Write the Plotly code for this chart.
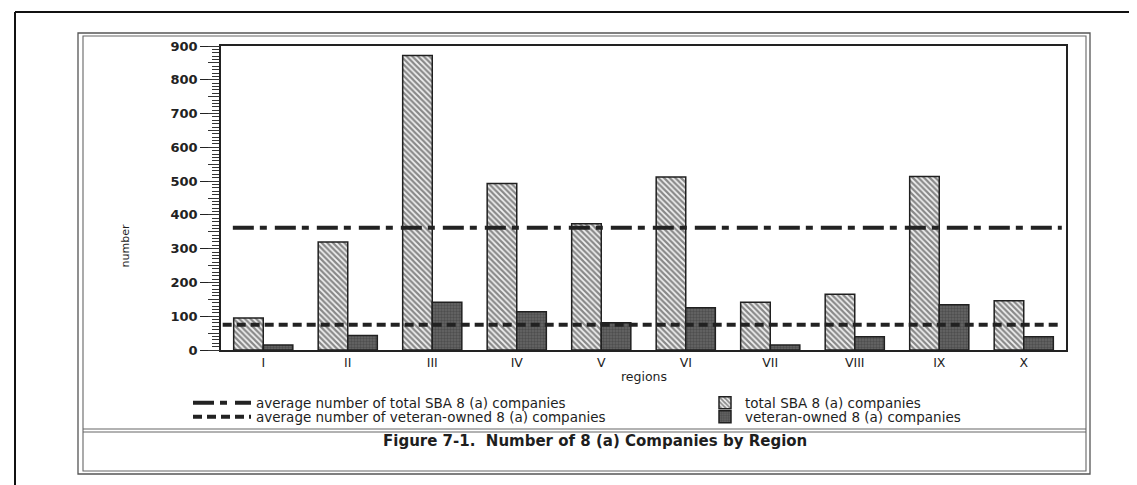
import plotly.graph_objects as go

# ---------------- data ----------------
regions = ["I", "II", "III", "IV", "V", "VI", "VII", "VIII", "IX", "X"]
total_sba = [95, 320, 872, 493, 374, 512, 141, 165, 514, 146]
veteran_owned = [15, 43, 141, 113, 81, 125, 15, 39, 134, 39]
avg_total = 362
avg_veteran = 75
y_ticks = [0, 100, 200, 300, 400, 500, 600, 700, 800, 900]

W, H = 1137, 485


def px(x):
    return x / W


def py(y):
    return 1 - y / H


FONT = "DejaVu Sans, Liberation Sans, sans-serif"
INK = "#1e1e1e"

fig = go.Figure()

fig.add_trace(go.Bar(
    x=regions, y=total_sba, name="total SBA 8 (a) companies",
    marker=dict(color="white",
                line=dict(color="#202020", width=1.5),
                pattern=dict(shape="\\", fgcolor="#1e1e1e", bgcolor="#f2f2f2",
                             size=4, solidity=0.55)),
    legend="legend3",
))
fig.add_trace(go.Bar(
    x=regions, y=veteran_owned, name="veteran-owned 8 (a) companies",
    marker=dict(color="#555555",
                line=dict(color="#202020", width=1.5),
                pattern=dict(shape=".", fgcolor="#363636", bgcolor="#676767",
                             size=3, solidity=0.5)),
    legend="legend4",
))

# average lines on an overlay numeric axis spanning the plot width
fig.add_trace(go.Scatter(
    x=[0.014, 0.995], y=[avg_total, avg_total], mode="lines",
    name="average number of total SBA 8 (a) companies",
    line=dict(color="#222222", width=4, dash="21px,6px,7px,8px"),
    xaxis="x2", yaxis="y", legend="legend",
))
fig.add_trace(go.Scatter(
    x=[0.002, 0.995], y=[avg_veteran, avg_veteran], mode="lines",
    name="average number of veteran-owned 8 (a) companies",
    line=dict(color="#222222", width=4, dash="9px,5px"),
    xaxis="x2", yaxis="y", legend="legend2",
))
# invisible trace to carry the mid (50) ticks on an overlay y axis
fig.add_trace(go.Scatter(x=[None], y=[None], xaxis="x2", yaxis="y2",
                         showlegend=False, hoverinfo="skip"))

xdom = [px(213), px(1058)]
ydom = [py(342), py(38)]

LEG_FONT = dict(family=FONT, size=13.5, color=INK)

fig.update_layout(
    width=W, height=H,
    margin=dict(l=0, r=0, t=0, b=0),
    paper_bgcolor="white", plot_bgcolor="white",
    barmode="group", bargap=0.30, bargroupgap=0.0,
    font=dict(family=FONT, color=INK, size=12),
    xaxis=dict(domain=xdom, type="category", categoryorder="array",
               categoryarray=regions, showline=True, linecolor="#222",
               linewidth=1.5, mirror=True, ticks="", showgrid=False,
               tickfont=dict(family=FONT, size=12.5, color="#222"),
               automargin=False, fixedrange=True),
    xaxis2=dict(domain=xdom, overlaying="x", range=[0, 1], visible=False,
                fixedrange=True),
    yaxis=dict(domain=ydom, range=[0, 900], tickvals=y_ticks,
               showline=True, linecolor="#222", linewidth=1.5, mirror=True,
               ticks="outside", ticklen=19, tickwidth=1.3, tickcolor="#222",
               showgrid=False, zeroline=False,
               tickfont=dict(family=FONT, size=13, color="#222", weight="bold"),
               minor=dict(dtick=10, tick0=0, ticks="outside", ticklen=7,
                          tickwidth=1, tickcolor="#333", showgrid=False),
               automargin=False, fixedrange=True),
    yaxis2=dict(domain=ydom, range=[0, 900], overlaying="y", anchor="x",
                side="left", dtick=50, tick0=0, ticks="outside", ticklen=12,
                tickwidth=1, tickcolor="#333", showticklabels=False,
                showline=False, showgrid=False, zeroline=False,
                automargin=False, fixedrange=True),
    legend=dict(x=px(180), y=py(395), xanchor="left", yanchor="middle",
                bgcolor="rgba(0,0,0,0)", itemwidth=58, font=LEG_FONT),
    legend2=dict(x=px(180), y=py(409), xanchor="left", yanchor="middle",
                 bgcolor="rgba(0,0,0,0)", itemwidth=58, font=LEG_FONT),
    legend3=dict(x=px(697), y=py(395), xanchor="left", yanchor="middle",
                 bgcolor="rgba(0,0,0,0)", itemwidth=30, font=LEG_FONT),
    legend4=dict(x=px(697), y=py(409), xanchor="left", yanchor="middle",
                 bgcolor="rgba(0,0,0,0)", itemwidth=30, font=LEG_FONT),
)

# axis titles and figure caption
fig.add_annotation(text="regions", x=(xdom[0] + xdom[1]) / 2, y=py(378),
                   xref="paper", yref="paper", showarrow=False,
                   font=dict(family=FONT, size=12.5, color=INK))
fig.add_annotation(text="number", x=px(108), y=py(238), textangle=-90,
                   xref="paper", yref="paper", showarrow=False,
                   font=dict(family=FONT, size=11, color=INK))
fig.add_annotation(text="Figure 7-1.\u00a0\u00a0Number of 8 (a) Companies by Region",
                   x=px(587), y=py(444), xref="paper", yref="paper",
                   showarrow=False,
                   font=dict(family=FONT, size=15, color=INK, weight="bold"))

# frames
def rect(x0, y0, x1, y1, color, width):
    fig.add_shape(type="rect", xref="paper", yref="paper",
                  x0=px(x0), y0=py(y0), x1=px(x1), y1=py(y1),
                  line=dict(color=color, width=width), layer="below")


def hline(x0, x1, y, color, width):
    fig.add_shape(type="line", xref="paper", yref="paper",
                  x0=px(x0), x1=px(x1), y0=py(y), y1=py(y),
                  line=dict(color=color, width=width))


def vline(x, y0, y1, color, width):
    fig.add_shape(type="line", xref="paper", yref="paper",
                  x0=px(x), x1=px(x), y0=py(y0), y1=py(y1),
                  line=dict(color=color, width=width))


# outer black border (left, top, bottom)
hline(7, 1137, 4, "#111", 2)
hline(7, 1137, 483, "#111", 2)
vline(7, 4, 483, "#111", 2)

# inner double frame
rect(70, 25, 1082, 466, "#555", 1.3)
rect(75, 28, 1078, 463, "#666", 1.1)
hline(75, 1078, 421, "#666", 1.1)
hline(75, 1078, 424, "#666", 1.1)

fig.write_html("out.html")
